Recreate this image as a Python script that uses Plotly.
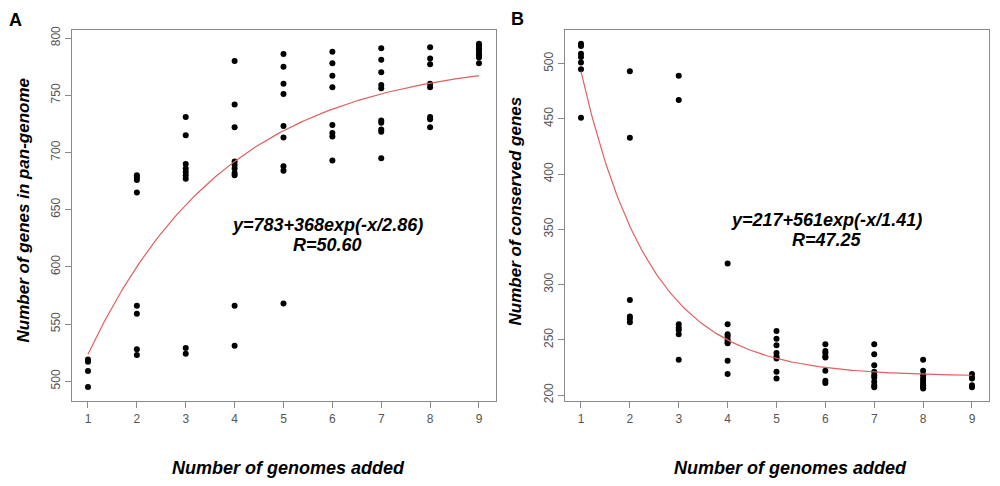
import numpy as np
import plotly.graph_objects as go

# ---------------- data ----------------
genomes_a = [1]*4 + [2]*8 + [3]*9 + [4]*10 + [5]*9 + [6]*8 + [7]*10 + [8]*8 + [9]*8
pan_genes = [519, 517, 509, 495,
             680, 678, 676, 665, 566, 559, 528, 523,
             731, 715, 690, 686, 683, 680, 677, 529, 524,
             780, 742, 722, 692, 689, 686, 682, 680, 566, 531,
             786, 775, 760, 751, 723, 713, 688, 684, 568,
             788, 778, 767, 757, 724, 717, 714, 693,
             791, 781, 770, 759, 756, 728, 726, 720, 718, 695,
             792, 782, 777, 760, 757, 731, 729, 722,
             795, 793, 791, 789, 787, 785, 783, 778]

genomes_b = [1]*7 + [2]*6 + [3]*7 + [4]*9 + [5]*8 + [6]*8 + [7]*9 + [8]*9 + [9]*5
core_genes = [518, 516, 509, 506, 501, 495, 451,
              493, 433, 286, 271, 269, 266,
              489, 467, 264, 261, 259, 255, 232,
              319, 264, 255, 253, 250, 248, 247, 231, 219,
              258, 251, 245, 238, 235, 233, 221, 215,
              246, 240, 238, 235, 234, 222, 213, 211,
              246, 237, 227, 221, 218, 216, 212, 209, 207,
              232, 222, 218, 215, 213, 211, 209, 207, 206,
              219, 216, 215, 209, 207]

fit_a = dict(a=783, b=368, c=2.86)   # drawn curve: a - b*exp(-x/c)
fit_b = dict(a=217, b=561, c=1.41)   # a + b*exp(-x/c)
label_a = ["y=783+368exp(-x/2.86)", "R=50.60"]
label_b = ["y=217+561exp(-x/1.41)", "R=47.25"]
x_ticks = [1, 2, 3, 4, 5, 6, 7, 8, 9]
ya_ticks = [500, 550, 600, 650, 700, 750, 800]
yb_ticks = [200, 250, 300, 350, 400, 450, 500]

xs = np.linspace(1, 9, 200)
curve_a = fit_a["a"] - fit_a["b"] * np.exp(-xs / fit_a["c"])
curve_b = fit_b["a"] + fit_b["b"] * np.exp(-xs / fit_b["c"])

FONT = "Liberation Sans"
fig = go.Figure()
dot = dict(color="black", size=6)
fig.add_trace(go.Scatter(x=genomes_a, y=pan_genes, mode="markers", marker=dot,
                         xaxis="x", yaxis="y", showlegend=False))
fig.add_trace(go.Scatter(x=xs, y=curve_a, mode="lines", line=dict(color="#e06060", width=1.2),
                         xaxis="x", yaxis="y", showlegend=False))
fig.add_trace(go.Scatter(x=genomes_b, y=core_genes, mode="markers", marker=dot,
                         xaxis="x2", yaxis="y2", showlegend=False))
fig.add_trace(go.Scatter(x=xs, y=curve_b, mode="lines", line=dict(color="#e06060", width=1.2),
                         xaxis="x2", yaxis="y2", showlegend=False))

ax_common = dict(showgrid=False, zeroline=False, showline=True, mirror=True,
                 linecolor="#8a8a8a", linewidth=1.3, ticks="outside", ticklen=6,
                 tickcolor="#8a8a8a", tickwidth=1.3,
                 tickfont=dict(family=FONT, size=12, color="#555555"))
H = 486
ydom = [1 - 402 / H, 1 - 26 / H]
fig.update_layout(
    width=1000, height=486, margin=dict(l=0, r=0, t=0, b=0),
    plot_bgcolor="white", paper_bgcolor="white",
    xaxis=dict(domain=[0.072, 0.496], range=[0.673, 9.348], tickvals=x_ticks,
               anchor="y", **ax_common),
    yaxis=dict(domain=ydom, range=[482.7, 807.3], tickvals=ya_ticks, tickangle=-90,
               anchor="x", **ax_common),
    xaxis2=dict(domain=[0.565, 0.989], range=[0.673, 9.348], tickvals=x_ticks,
                anchor="y2", **ax_common),
    yaxis2=dict(domain=ydom, range=[194.6, 530.7], tickvals=yb_ticks, tickangle=-90,
                anchor="x2", **ax_common),
)

xfont = dict(family=FONT, size=18, color="black", weight="bold", style="italic")
yfont = dict(family=FONT, size=17, color="black", weight="bold", style="italic")
afont = dict(family=FONT, size=18, color="black", weight="bold", style="italic")
ann = [
    dict(text="A", x=15 / 1000, y=1 - 16 / H, font=dict(family=FONT, size=18, color="black", weight="bold")),
    dict(text="B", x=517 / 1000, y=1 - 15 / H, font=dict(family=FONT, size=18, color="black", weight="bold")),
    dict(text="Number of genomes added", x=288 / 1000, y=1 - 470 / H, font=xfont),
    dict(text="Number of genomes added", x=790 / 1000, y=1 - 470 / H, font=xfont),
    dict(text="Number of genes in pan-genome", x=23 / 1000, y=1 - 209 / H, font=yfont, textangle=-90),
    dict(text="Number of conserved genes", x=515 / 1000, y=1 - 210 / H, font=yfont, textangle=-90),
]
for a in ann:
    a.update(xref="paper", yref="paper", showarrow=False, xanchor="center", yanchor="middle")
    fig.add_annotation(**a)

fig.add_annotation(text=label_a[0], x=5.91, y=637, xref="x", yref="y", showarrow=False, font=afont)
fig.add_annotation(text=label_a[1], x=5.91, y=619, xref="x", yref="y", showarrow=False, font=afont)
fig.add_annotation(text=label_b[0], x=6.03, y=358.7, xref="x2", yref="y2", showarrow=False, font=afont)
fig.add_annotation(text=label_b[1], x=6.03, y=340, xref="x2", yref="y2", showarrow=False, font=afont)

fig.write_html("out.html", config={"displayModeBar": False},
               post_script="document.body.style.margin='0';")
